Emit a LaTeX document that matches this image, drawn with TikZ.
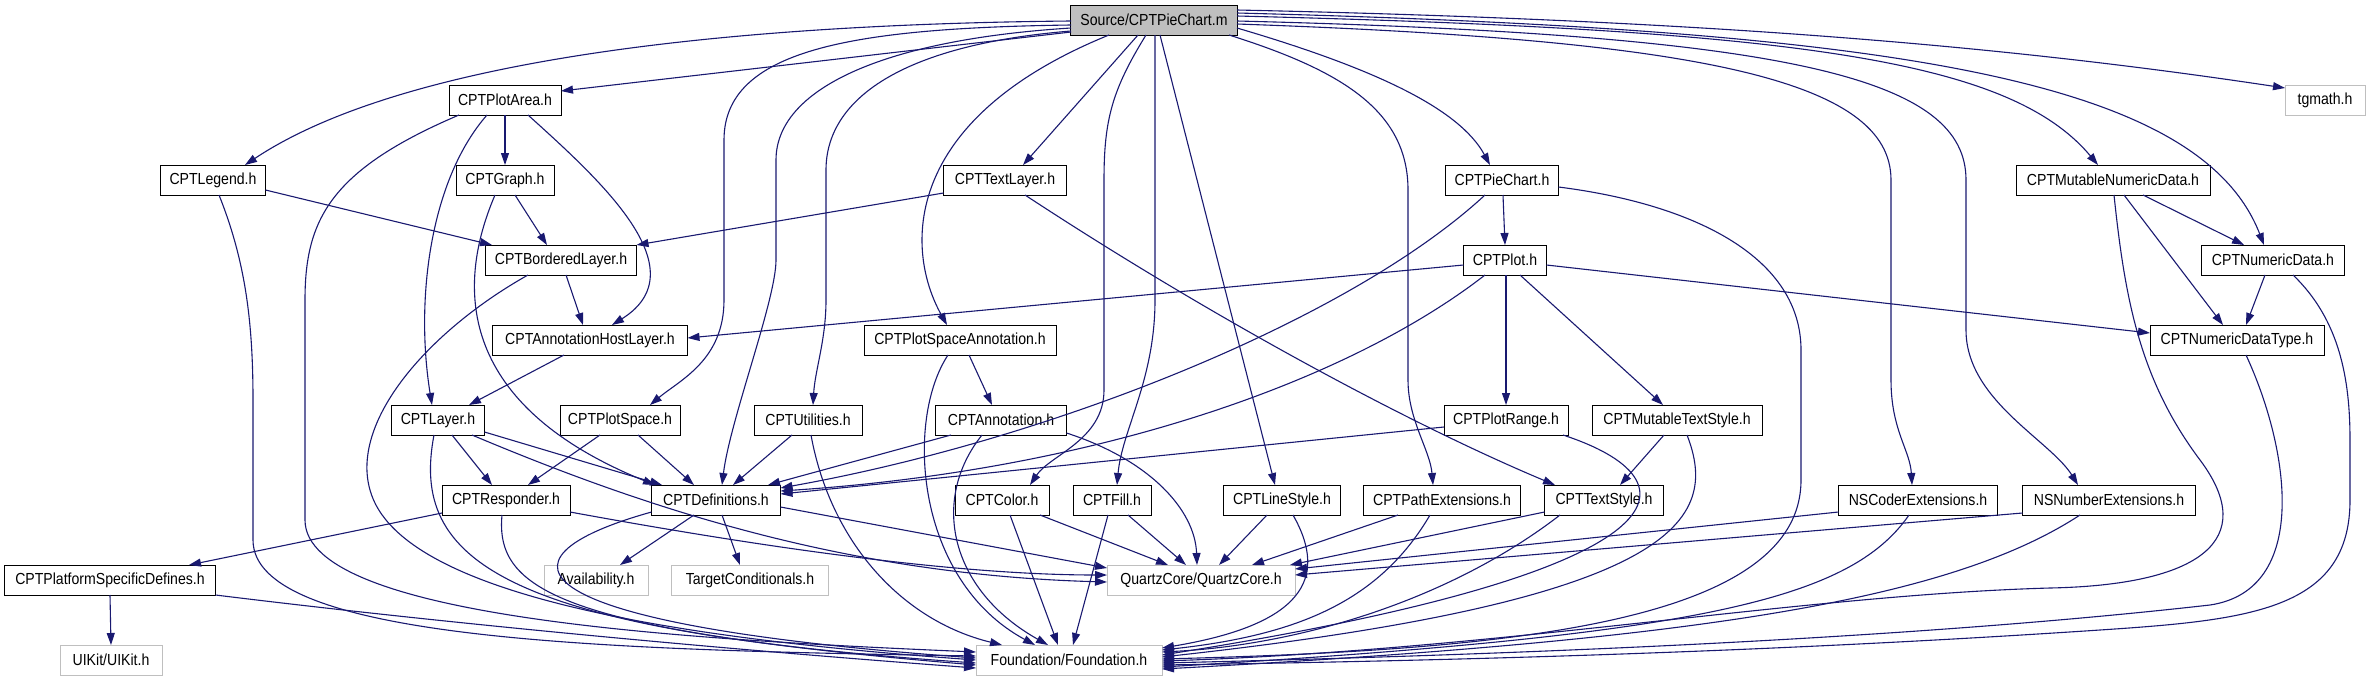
\documentclass[tikz,border=0pt]{standalone}
\usepackage{fontspec}
\setmainfont{Liberation Sans}
\newfontfamily\nodefont{Liberation Sans}[FakeStretch=0.88]
\usetikzlibrary{arrows.meta,calc}
\definecolor{edgeblue}{HTML}{191970}
\definecolor{grayline}{HTML}{BFBFBF}
\tikzset{
  box/.style={draw=black, line width=1pt, fill=white, minimum height=30pt, inner xsep=2pt, inner ysep=0pt, font=\nodefont\fontsize{16}{18}\selectfont, text=black},
  extbox/.style={box, draw=grayline},
  srcbox/.style={box, fill=grayline},
  dep/.style={draw=edgeblue, line width=1.1pt, -{Triangle[length=12pt,width=8pt]}}
}
\begin{document}
\begin{tikzpicture}[x=1pt,y=-1pt]
\useasboundingbox (0,0) rectangle (2372,683);
% nodes
\node[srcbox, minimum width=167pt] (src) at (1154,20) {Source/CPTPieChart.m};
\node[box, minimum width=112pt] (plotarea) at (505,100) {CPTPlotArea.h};
\node[extbox, minimum width=80pt] (tgmath) at (2325,100) {tgmath.h};
\node[box, minimum width=105pt] (legend) at (213,180) {CPTLegend.h};
\node[box, minimum width=98pt] (graph) at (505,180) {CPTGraph.h};
\node[box, minimum width=123pt] (textlayer) at (1005,180) {CPTTextLayer.h};
\node[box, minimum width=113pt] (piechart) at (1502,180) {CPTPieChart.h};
\node[box, minimum width=194pt] (mutnum) at (2113,180) {CPTMutableNumericData.h};
\node[box, minimum width=151pt] (bordered) at (561,260) {CPTBorderedLayer.h};
\node[box, minimum width=83pt] (nplot) at (1505,260) {CPTPlot.h};
\node[box, minimum width=143pt] (numdata) at (2273,260) {CPTNumericData.h};
\node[box, minimum width=195pt] (ahl) at (590,340) {CPTAnnotationHostLayer.h};
\node[box, minimum width=192pt] (psa) at (960,340) {CPTPlotSpaceAnnotation.h};
\node[box, minimum width=174pt] (ndtype) at (2237,340) {CPTNumericDataType.h};
\node[box, minimum width=93pt] (layer) at (438,420) {CPTLayer.h};
\node[box, minimum width=120pt] (plotspace) at (620,420) {CPTPlotSpace.h};
\node[box, minimum width=108pt] (utilities) at (808,420) {CPTUtilities.h};
\node[box, minimum width=131pt] (annotation) at (1001,420) {CPTAnnotation.h};
\node[box, minimum width=124pt] (plotrange) at (1506,420) {CPTPlotRange.h};
\node[box, minimum width=170pt] (muttext) at (1677,420) {CPTMutableTextStyle.h};
\node[box, minimum width=128pt] (responder) at (506,500) {CPTResponder.h};
\node[box, minimum width=129pt] (definitions) at (716,500) {CPTDefinitions.h};
\node[box, minimum width=94pt] (ncolor) at (1002,500) {CPTColor.h};
\node[box, minimum width=78pt] (nfill) at (1112,500) {CPTFill.h};
\node[box, minimum width=117pt] (linestyle) at (1282,500) {CPTLineStyle.h};
\node[box, minimum width=157pt] (pathext) at (1442,500) {CPTPathExtensions.h};
\node[box, minimum width=119pt] (textstyle) at (1604,500) {CPTTextStyle.h};
\node[box, minimum width=159pt] (nscoder) at (1918,500) {NSCoderExtensions.h};
\node[box, minimum width=173pt] (nsnumber) at (2109,500) {NSNumberExtensions.h};
\node[box, minimum width=211pt] (platform) at (110,580) {CPTPlatformSpecificDefines.h};
\node[extbox, minimum width=104pt] (availability) at (596,580) {Availability.h};
\node[extbox, minimum width=157pt] (targetcond) at (750,580) {TargetConditionals.h};
\node[extbox, minimum width=188pt] (quartz) at (1201,580) {QuartzCore/QuartzCore.h};
\node[extbox, minimum width=102pt] (uikit) at (111,660) {UIKit/UIKit.h};
\node[extbox, minimum width=186pt] (foundation) at (1069,660) {Foundation/Foundation.h};

% source edges
\draw[dep] ($(src)+(-83,12)$) -- ($(plotarea)+(56,-9)$);
\draw[dep] ($(src)+(-83,1)$) .. controls (650,25) and (380,75) .. ($(legend)+(32,-15)$);
\draw[dep] ($(src)+(-83,5)$) .. controls (850,28) and (724,50) .. (724,140) -- (724,300) .. controls (724,360) and (680,380) .. ($(plotspace)+(30,-15)$);
\draw[dep] ($(src)+(-83,8)$) .. controls (880,40) and (776,90) .. (776,160) -- (776,260) .. controls (776,300) and (730,420) .. ($(definitions)+(6,-15)$);
\draw[dep] ($(src)+(-83,11)$) .. controls (900,45) and (826,100) .. (826,170) -- (826,300) .. controls (826,340) and (815,370) .. ($(utilities)+(5,-15)$);
\draw[dep] ($(src)+(-45,15)$) .. controls (900,120) and (905,250) .. ($(psa)+(-13,-15)$);
\draw[dep] ($(src)+(-16,15)$) -- ($(textlayer)+(18,-15)$);
\draw[dep] ($(src)+(-8,15)$) .. controls (1112,90) and (1104,120) .. (1104,180) -- (1104,390) .. controls (1104,440) and (1050,455) .. ($(ncolor)+(28,-15)$);
\draw[dep] ($(src)+(1,15)$) -- (1155,300) .. controls (1155,380) and (1122,430) .. ($(nfill)+(5,-15)$);
\draw[dep] ($(src)+(6,15)$) -- ($(linestyle)+(-7,-15)$);
\draw[dep] ($(src)+(75,15)$) .. controls (1340,70) and (1408,110) .. (1408,190) -- (1408,380) .. controls (1408,420) and (1430,450) .. ($(pathext)+(-9,-15)$);
\draw[dep] ($(src)+(83,8)$) .. controls (1380,70) and (1460,110) .. ($(piechart)+(-12,-15)$);
\draw[dep] ($(src)+(83,4)$) .. controls (1700,40) and (1891,80) .. (1891,180) -- (1891,380) .. controls (1891,430) and (1910,450) .. ($(nscoder)+(-6,-15)$);
\draw[dep] ($(src)+(83,1)$) .. controls (1800,35) and (1966,80) .. (1966,180) -- (1966,330) .. controls (1966,400) and (2050,440) .. ($(nsnumber)+(-31,-15)$);
\draw[dep] ($(src)+(83,-4)$) .. controls (1800,30) and (2010,60) .. ($(mutnum)+(-15,-15)$);
\draw[dep] ($(src)+(83,-7)$) .. controls (1900,30) and (2200,80) .. ($(numdata)+(-9,-15)$);
\draw[dep] ($(src)+(83,-10)$) .. controls (1700,20) and (2000,45) .. ($(tgmath)+(-40,-12)$);

% CPTPlotArea
\draw[dep] ($(plotarea)+(0,15)$) -- ($(graph)+(0,-15)$);
\draw[dep] ($(plotarea)+(23,15)$) .. controls (600,180) and (700,270) .. ($(ahl)+(22,-15)$);
\draw[dep] ($(plotarea)+(-18,15)$) .. controls (430,180) and (415,300) .. ($(layer)+(-6,-15)$);
\draw[dep] ($(plotarea)+(-46,15)$) .. controls (330,170) and (305,220) .. (305,300) -- (305,520) .. controls (305,620) and (700,640) .. ($(foundation)+(-93,-8)$);

% CPTLegend
\draw[dep] ($(legend)+(52.5,10)$) -- ($(bordered)+(-69,-15)$);
\draw[dep] ($(legend)+(6,15)$) .. controls (245,260) and (253,320) .. (253,400) -- (253,540) .. controls (253,640) and (600,650) .. ($(foundation)+(-93,-4)$);

% CPTGraph
\draw[dep] ($(graph)+(10,15)$) -- ($(bordered)+(-14,-15)$);
\draw[dep] ($(graph)+(-10,15)$) .. controls (450,300) and (470,410) .. ($(definitions)+(-61,-15)$);

% CPTBorderedLayer
\draw[dep] ($(bordered)+(5,15)$) -- ($(ahl)+(-7,-15)$);
\draw[dep] ($(bordered)+(-33,15)$) .. controls (430,330) and (350,420) .. (370,490) .. controls (400,600) and (700,640) .. ($(foundation)+(-93,0)$);

% CPTAnnotationHostLayer
\draw[dep] ($(ahl)+(-26,15)$) -- ($(layer)+(31,-15)$);

% CPTLayer
\draw[dep] ($(layer)+(14,15)$) -- ($(responder)+(-14,-15)$);
\draw[dep] ($(layer)+(46.5,12)$) -- ($(definitions)+(-54,-15)$);
\draw[dep] ($(layer)+(34,15)$) .. controls (650,510) and (850,575) .. ($(quartz)+(-94,2)$);
\draw[dep] ($(layer)+(-4,15)$) .. controls (410,560) and (500,630) .. ($(foundation)+(-93,3)$);

% CPTPlotSpace
\draw[dep] ($(plotspace)+(-20,15)$) -- ($(responder)+(22,-15)$);
\draw[dep] ($(plotspace)+(18,15)$) -- ($(definitions)+(-22,-15)$);

% CPTUtilities
\draw[dep] ($(utilities)+(-16,15)$) -- ($(definitions)+(17,-15)$);
\draw[dep] ($(utilities)+(3,15)$) .. controls (830,540) and (900,620) .. ($(foundation)+(-67,-15)$);

% CPTPlotSpaceAnnotation
\draw[dep] ($(psa)+(9,15)$) -- ($(annotation)+(-9,-15)$);
\draw[dep] ($(psa)+(-12,15)$) .. controls (905,420) and (915,580) .. ($(foundation)+(-34,-15)$);

% CPTAnnotation
\draw[dep] ($(annotation)+(-50,15)$) -- ($(definitions)+(52,-15)$);
\draw[dep] ($(annotation)+(-19,15)$) .. controls (930,500) and (950,590) .. ($(foundation)+(-21,-15)$);
\draw[dep] ($(annotation)+(65.5,13)$) .. controls (1150,460) and (1195,510) .. ($(quartz)+(-4,-15)$);

% CPTColor, CPTFill
\draw[dep] ($(ncolor)+(8,15)$) -- ($(foundation)+(-11,-15)$);
\draw[dep] ($(ncolor)+(38,15)$) -- ($(quartz)+(-33,-15)$);
\draw[dep] ($(nfill)+(-4,15)$) -- ($(foundation)+(4,-15)$);
\draw[dep] ($(nfill)+(16,15)$) -- ($(quartz)+(-15,-15)$);

% CPTLineStyle
\draw[dep] ($(linestyle)+(-15,15)$) -- ($(quartz)+(18,-15)$);
\draw[dep] ($(linestyle)+(11,15)$) .. controls (1330,580) and (1300,625) .. ($(foundation)+(93,-12)$);

% CPTPathExtensions
\draw[dep] ($(pathext)+(-44,15)$) -- ($(quartz)+(51,-15)$);
\draw[dep] ($(pathext)+(-12,15)$) .. controls (1380,600) and (1300,635) .. ($(foundation)+(93,-10)$);

% CPTTextStyle
\draw[dep] ($(textstyle)+(-59.5,12)$) -- ($(quartz)+(89,-15)$);
\draw[dep] ($(textstyle)+(-44,15)$) .. controls (1450,600) and (1300,645) .. ($(foundation)+(93,-8)$);

% CPTPlotRange
\draw[dep] ($(plotrange)+(-62,7)$) -- ($(definitions)+(64.5,-6)$);
\draw[dep] ($(plotrange)+(57,15)$) .. controls (1700,480) and (1700,570) .. ($(foundation)+(93,-5)$);

% CPTMutableTextStyle
\draw[dep] ($(muttext)+(-13,15)$) -- ($(textstyle)+(16,-15)$);
\draw[dep] ($(muttext)+(10,15)$) .. controls (1720,520) and (1680,600) .. ($(foundation)+(93,-3)$);

% CPTPieChart
\draw[dep] ($(piechart)+(1,15)$) -- ($(nplot)+(0,-15)$);
\draw[dep] ($(piechart)+(-17,15)$) .. controls (1350,320) and (1050,440) .. ($(definitions)+(64.5,-12)$);
\draw[dep] ($(piechart)+(56.5,7)$) .. controls (1700,205) and (1801,260) .. (1801,350) -- (1801,480) .. controls (1801,625) and (1500,650) .. ($(foundation)+(93,-1)$);

% CPTPlot
\draw[dep] ($(nplot)+(-41.5,5)$) -- ($(ahl)+(97.5,-2)$);
\draw[dep] ($(nplot)+(-20,15)$) .. controls (1350,380) and (1100,470) .. ($(definitions)+(64.5,-9)$);
\draw[dep] ($(nplot)+(1,15)$) -- ($(plotrange)+(0,-15)$);
\draw[dep] ($(nplot)+(15,15)$) -- ($(muttext)+(-14,-15)$);
\draw[dep] ($(nplot)+(41.5,5)$) -- ($(ndtype)+(-87,-7)$);

% CPTTextLayer
\draw[dep] ($(textlayer)+(-61.5,13)$) -- ($(bordered)+(75.5,-15)$);
\draw[dep] ($(textlayer)+(20,15)$) .. controls (1200,310) and (1400,420) .. ($(textstyle)+(-49,-15)$);

% CPTMutableNumericData
\draw[dep] ($(mutnum)+(30,15)$) -- ($(numdata)+(-29,-15)$);
\draw[dep] ($(mutnum)+(11,15)$) -- ($(ndtype)+(-14,-15)$);
\draw[dep] ($(mutnum)+(1,15)$) .. controls (2125,300) and (2140,380) .. (2200,460) .. controls (2260,540) and (2200,585) .. (2050,588) .. controls (1800,595) and (1500,650) .. ($(foundation)+(93,1)$);

% CPTNumericData
\draw[dep] ($(numdata)+(-8,15)$) -- ($(ndtype)+(9,-15)$);
\draw[dep] ($(numdata)+(20,15)$) .. controls (2340,320) and (2350,380) .. (2350,440) -- (2350,500) .. controls (2350,610) and (2250,620) .. (2100,630) .. controls (1800,650) and (1500,660) .. ($(foundation)+(93,5)$);

% CPTNumericDataType
\draw[dep] ($(ndtype)+(9,15)$) .. controls (2290,450) and (2310,590) .. (2210,605) .. controls (1900,640) and (1500,655) .. ($(foundation)+(93,3)$);

% NSCoderExtensions, NSNumberExtensions
\draw[dep] ($(nscoder)+(-79.5,12)$) -- ($(quartz)+(94,-11)$);
\draw[dep] ($(nscoder)+(-9,15)$) .. controls (1850,600) and (1700,635) .. ($(foundation)+(93,7)$);
\draw[dep] ($(nsnumber)+(-86.5,13)$) -- ($(quartz)+(94,-5)$);
\draw[dep] ($(nsnumber)+(-29,15)$) .. controls (1950,600) and (1700,640) .. ($(foundation)+(93,9)$);

% CPTResponder
\draw[dep] ($(responder)+(-64,13)$) -- ($(platform)+(79,-15)$);
\draw[dep] ($(responder)+(64,12)$) .. controls (750,545) and (950,575) .. ($(quartz)+(-94,-5)$);
\draw[dep] ($(responder)+(-4,15)$) .. controls (495,590) and (560,630) .. ($(foundation)+(-93,5)$);

% CPTDefinitions
\draw[dep] ($(definitions)+(-22,15)$) -- ($(availability)+(24,-15)$);
\draw[dep] ($(definitions)+(6,15)$) -- ($(targetcond)+(-10,-15)$);
\draw[dep] ($(definitions)+(64.5,7)$) -- ($(quartz)+(-94,-12)$);
\draw[dep] ($(definitions)+(-64.5,12)$) .. controls (480,560) and (520,625) .. ($(foundation)+(-93,-2)$);

% CPTPlatformSpecificDefines
\draw[dep] ($(platform)+(0,15)$) -- ($(uikit)+(0,-15)$);
\draw[dep] ($(platform)+(105.5,15)$) .. controls (500,630) and (800,655) .. ($(foundation)+(-93,8)$);
\end{tikzpicture}
\end{document}
